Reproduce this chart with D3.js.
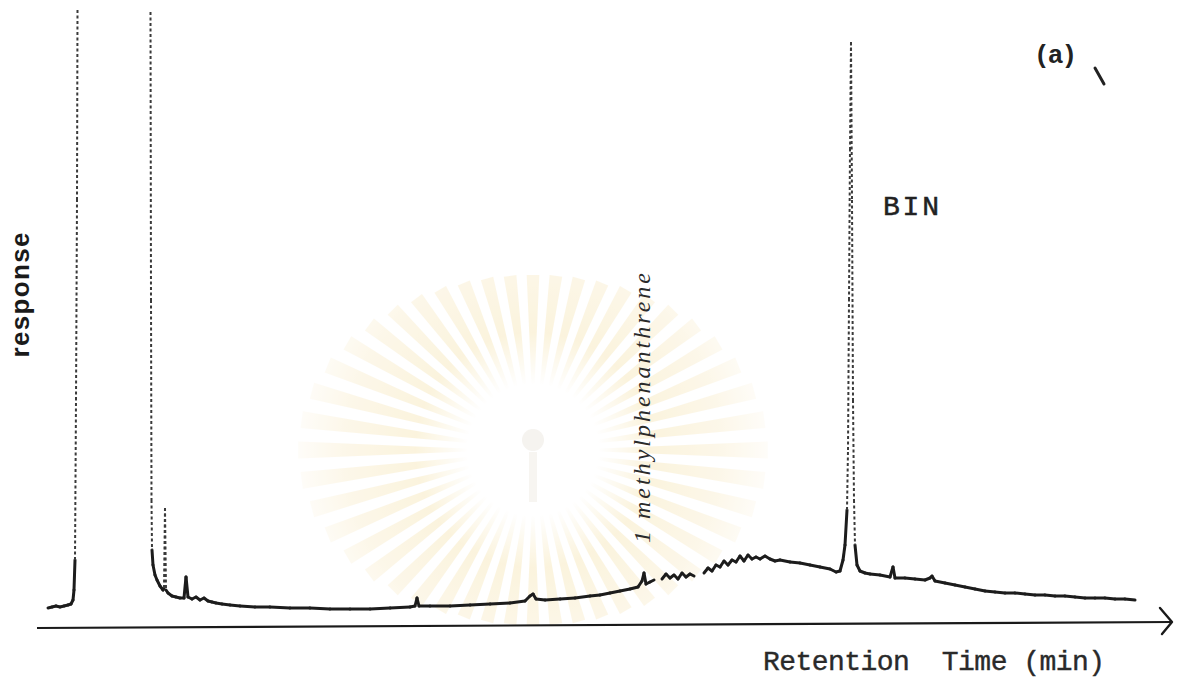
<!DOCTYPE html>
<html>
<head>
<meta charset="utf-8">
<script src="https://cdn.jsdelivr.net/npm/d3@7"></script>
<style>
  body { margin: 0; background: #fff; }
  svg { display: block; }
</style>
</head>
<body>
<div id="chart"></div>
<script>
// chromatogram trace (null = pen gap)
const timeMin = [
  0.44, 0.60, 0.76, 0.92, 1.08, 1.24, 1.36, 1.44, 1.48, 1.52, 1.56, 1.60, 1.62,
  null,
  4.54, 4.56, 4.58, 4.60, 4.64, 4.72, 4.80, 4.92, 5.04, 5.08, 5.12, 5.16, 5.24, 5.40,
  5.56, 5.72, 5.88, 5.96, 6.04, 6.20, 6.36, 6.52, 6.68, 6.84, 7.00, 7.16, 7.40, 7.72,
  8.12, 8.72, 9.32, 10.12, 10.92, 11.72, 12.52, 13.32, 14.12, 14.92, 15.12, 15.20, 15.28,
  15.72, 16.52, 17.32, 18.12, 18.92, 19.52, 19.72, 19.84, 19.96, 20.32, 20.92, 21.52,
  22.12, 22.52, 22.92, 23.32, 23.72, 24.04, 24.20, 24.28, 24.36, 24.52, 24.68,
  null,
  25.00, 25.16, 25.32, 25.48, 25.64, 25.80, 25.96, 26.12, 26.28,
  null,
  26.68, 26.84, 27.00, 27.16, 27.32, 27.48, 27.64, 27.80, 27.96, 28.12, 28.28, 28.44,
  28.60, 28.76, 28.92, 29.12, 29.32, 29.52, 29.72, 30.12, 30.52, 30.92, 31.32, 31.72,
  31.96, 32.12, 32.24, 32.32, 32.40, 32.44, 32.48, 32.52, 32.56, 32.60, 32.64, 32.68,
  32.72, 32.80, 32.92, 33.12, 33.32, 33.72, 34.12, 34.24, 34.32, 34.72, 35.12, 35.52,
  35.72, 35.80, 35.92, 36.32, 36.72, 37.12, 37.52, 37.92, 38.32, 38.72, 39.12, 39.52,
  39.92, 40.32, 40.72, 41.12, 41.52, 41.92, 42.32, 42.72, 43.12, 43.52, 43.92
];
const response = [
  3.8, 4.0, 4.2, 4.0, 4.2, 4.4, 4.6, 5.4, 7.4, 13.4, 45.4, 85.4, 123.4,
  null,
  123.0, 65.4, 25.4, 15.4, 12.4, 10.4, 9.4, 8.2, 7.4, 7.8, 23.8, 7.4, 6.8, 6.2,
  6.0, 5.8, 5.8, 10.0, 6.0, 5.6, 6.0, 5.4, 5.8, 5.2, 5.0, 4.8, 4.6, 4.4,
  4.2, 4.0, 4.0, 3.8, 3.8, 3.6, 3.6, 3.6, 3.8, 4.0, 4.2, 5.8, 4.2,
  4.2, 4.2, 4.4, 4.6, 4.8, 5.2, 6.2, 6.6, 5.6, 5.4, 5.6, 5.8,
  6.2, 6.4, 6.8, 7.2, 7.6, 8.0, 9.2, 10.8, 8.6, 9.0, 9.4,
  null,
  9.6, 10.6, 9.8, 10.4, 9.6, 10.8, 10.0, 10.6, 10.2,
  null,
  10.8, 11.8, 11.2, 12.4, 12.0, 13.2, 12.4, 13.4, 13.0, 14.2, 13.2, 14.4,
  13.6, 14.0, 13.6, 14.2, 13.6, 13.2, 13.4, 13.0, 12.8, 12.4, 12.0, 11.6,
  11.0, 11.2, 13.4, 16.4, 23.4, 35.4, 65.4, 95.4, 117.0, 85.4, 45.4, 25.4,
  16.4, 12.4, 11.2, 10.8, 10.6, 10.4, 10.0, 12.0, 9.8, 9.8, 9.6, 9.4,
  9.8, 10.2, 9.2, 8.8, 8.4, 8.0, 7.6, 7.2, 7.0, 6.8, 6.8, 6.6,
  6.4, 6.4, 6.2, 6.2, 6.0, 5.8, 5.8, 5.8, 5.6, 5.6, 5.4
];

const peakLabels = [
  { name: "1 methylphenanthrene", t: 24.28, kind: "hand" },
  { name: "BIN", t: 32.56, kind: "type" }
];

const width = 1185;
const height = 691;

const svg = d3.select("#chart").append("svg")
  .attr("width", width)
  .attr("height", height);

const x = d3.scaleLinear().domain([0, 45.4]).range([37, 1172]);
const y = d3.scaleLinear().domain([0, 125]).range([627, 2]);

// faint university watermark behind the trace
const defs = svg.append("defs");
const grad = defs.append("radialGradient").attr("id", "wm")
  .attr("gradientUnits", "userSpaceOnUse")
  .attr("cx", 533).attr("cy", 450).attr("r", 235);
grad.append("stop").attr("offset", "0.28").attr("stop-color", "#ffffff");
grad.append("stop").attr("offset", "0.5").attr("stop-color", "#f6e2a8");
grad.append("stop").attr("offset", "0.8").attr("stop-color", "#f9ebc6");
grad.append("stop").attr("offset", "1").attr("stop-color", "#fefaf0");

const rays = d3.range(48).map(i => i * Math.PI * 2 / 48);
const rOut = a => 1 / Math.sqrt((Math.cos(a) / 235) ** 2 + (Math.sin(a) / 175) ** 2);
svg.append("g").attr("opacity", 0.38)
  .selectAll("path").data(rays).join("path")
  .attr("fill", "url(#wm)")
  .attr("d", a => {
    const h = 0.036, r0 = 62, r1 = rOut(a);
    const p = (r, ang) => [533 + r * Math.cos(ang), 450 + r * Math.sin(ang)];
    return "M" + p(r0, a - h * 0.6) + "L" + p(r1, a - h) + "L" + p(r1, a + h) + "L" + p(r0, a + h * 0.6) + "Z";
  });
svg.append("circle").attr("cx", 533).attr("cy", 440).attr("r", 11).attr("fill", "#ece8df").attr("opacity", 0.5);
svg.append("rect").attr("x", 529).attr("y", 452).attr("width", 8).attr("height", 50).attr("fill", "#efebe3").attr("opacity", 0.5);

// time axis with arrow
const [x0, x1] = x.range();
svg.append("path")
  .attr("d", `M${x0},${y(0) + 1}L${x1},${y(0) - 5}`)
  .attr("stroke", "#1a1a1a").attr("stroke-width", 2.2).attr("fill", "none");
svg.append("path")
  .attr("d", `M${x1 - 12},${y(0) - 19}L${x1},${y(0) - 5}L${x1 - 10},${y(0) + 7}`)
  .attr("stroke", "#1a1a1a").attr("stroke-width", 2.4).attr("fill", "none")
  .attr("stroke-linecap", "round").attr("stroke-linejoin", "round");

// trace: flat parts solid, fast pen strokes dotted
const pts = timeMin.map((t, i) => ({ t, r: response[i] }));
const segs = d3.pairs(pts).filter(([a, b]) => a.t != null && b.t != null);
const steep = ([a, b]) => Math.abs(y(a.r) - y(b.r)) > 40;

svg.append("g").selectAll("line").data(segs.filter(s => !steep(s))).join("line")
  .attr("x1", d => x(d[0].t)).attr("y1", d => y(d[0].r))
  .attr("x2", d => x(d[1].t)).attr("y2", d => y(d[1].r))
  .attr("stroke", "#1c1c1c").attr("stroke-width", 3).attr("stroke-linecap", "round");

svg.append("g").selectAll("line").data(segs.filter(steep)).join("line")
  .attr("x1", d => x(d[0].t)).attr("y1", d => y(d[0].r))
  .attr("x2", d => x(d[1].t)).attr("y2", d => y(d[1].r))
  .attr("stroke", "#3a3a3a").attr("stroke-width", 2)
  .attr("stroke-dasharray", "3,2.5");

// labels
const hand = peakLabels[0];
svg.append("text")
  .attr("transform", `translate(${x(hand.t) + 6},543) rotate(-90)`)
  .attr("font-family", "Liberation Serif, serif")
  .attr("font-style", "italic")
  .attr("font-size", 24)
  .attr("textLength", 270)
  .attr("fill", "#2a2a2a")
  .text(hand.name);

const bin = peakLabels[1];
svg.append("text")
  .attr("x", x(bin.t) + 32).attr("y", 215)
  .attr("font-family", "Liberation Mono, monospace")
  .attr("font-size", 28)
  .attr("textLength", 56)
  .attr("fill", "#222").attr("stroke", "#222").attr("stroke-width", 0.5)
  .text(bin.name);

svg.append("text")
  .attr("x", 1034).attr("y", 63)
  .attr("font-family", "Liberation Mono, monospace")
  .attr("font-weight", "bold")
  .attr("font-size", 26)
  .attr("textLength", 43)
  .attr("fill", "#222")
  .text("(a)");
svg.append("path").attr("d", "M1095,68L1104,84")
  .attr("stroke", "#222").attr("stroke-width", 3).attr("stroke-linecap", "round");

svg.append("text")
  .attr("x", 763).attr("y", 670)
  .attr("font-family", "Liberation Mono, monospace")
  .attr("font-size", 28)
  .attr("textLength", 342)
  .attr("fill", "#2a2a2a").attr("stroke", "#2a2a2a").attr("stroke-width", 0.4)
  .attr("xml:space", "preserve")
  .text("Retention  Time (min)");

svg.append("text")
  .attr("transform", "translate(29,295) rotate(-90)")
  .attr("text-anchor", "middle")
  .attr("font-family", "Liberation Sans, Arial, sans-serif")
  .attr("font-weight", "bold")
  .attr("font-size", 26)
  .attr("textLength", 125)
  .attr("fill", "#1a1a1a")
  .text("response");
</script>
</body>
</html>
